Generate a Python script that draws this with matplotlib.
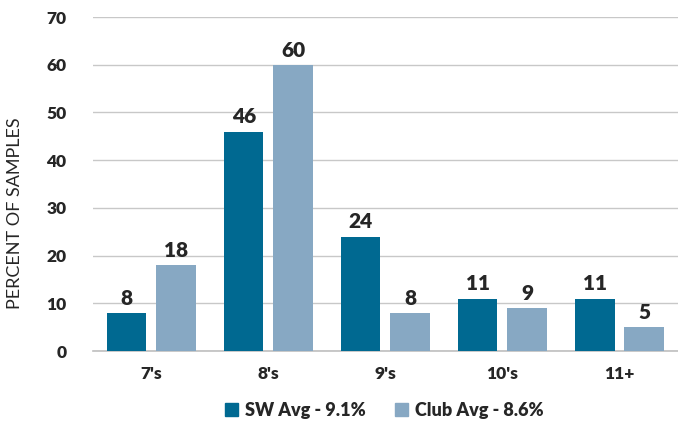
import numpy as np
import matplotlib.pyplot as plt
from matplotlib.patches import Patch

plt.rcParams['font.family'] = ['Lato', 'DejaVu Sans']

categories = ["7's", "8's", "9's", "10's", "11+"]
sw_avg = [8, 46, 24, 11, 11]
club_avg = [18, 60, 8, 9, 5]
series_names = ['SW Avg - 9.1%', 'Club Avg - 8.6%']

dark = '#006991'
light = '#87a8c3'
text_col = '#262626'
bold = 'heavy'

fig = plt.figure(figsize=(6.78, 4.26), dpi=100)
ax = fig.add_axes([0.137, 0.176, 0.863, 0.784])

x = np.arange(len(categories))
w = 0.335
off = 0.21
b1 = ax.bar(x - off, sw_avg, w, color=dark, zorder=3)
b2 = ax.bar(x + off, club_avg, w, color=light, zorder=3)

for bars in (b1, b2):
    for rect in bars:
        h = rect.get_height()
        ax.text(rect.get_x() + rect.get_width() / 2, h + 1.1, '%d' % h,
                ha='center', va='bottom', fontsize=15, fontweight=bold,
                color=text_col)

ax.set_ylim(0, 70)
ax.set_xlim(-0.5, len(categories) - 0.5)
ax.set_yticks(range(0, 71, 10))
ax.yaxis.grid(True, color='#c8c8c8', linewidth=1, zorder=0)
ax.set_axisbelow(True)
for s in ['top', 'right', 'left']:
    ax.spines[s].set_visible(False)
ax.spines['bottom'].set_color('#bfbfbf')
ax.spines['bottom'].set_linewidth(1.2)
ax.tick_params(axis='both', length=0, labelsize=12.5, colors=text_col)
ax.tick_params(axis='y', pad=19)
ax.tick_params(axis='x', pad=11)
ax.set_xticks(x)
ax.set_xticklabels(categories, fontweight=bold)
for lab in ax.get_yticklabels():
    lab.set_fontweight(bold)

# y label sits centred on the figure, not the axes
fig.text(0.022, 0.5, 'PERCENT OF SAMPLES', rotation=90, ha='center', va='center',
         fontsize=13, color=text_col)

handles = [Patch(color=dark), Patch(color=light)]
leg = fig.legend(handles, series_names, loc='center', bbox_to_anchor=(0.567, 0.037),
                 ncol=2, frameon=False, handlelength=0.7, handleheight=0.7,
                 handletextpad=0.4, columnspacing=1.6,
                 prop={'weight': bold, 'size': 13})
for t in leg.get_texts():
    t.set_color(text_col)

fig.savefig('out.png', dpi=100)
